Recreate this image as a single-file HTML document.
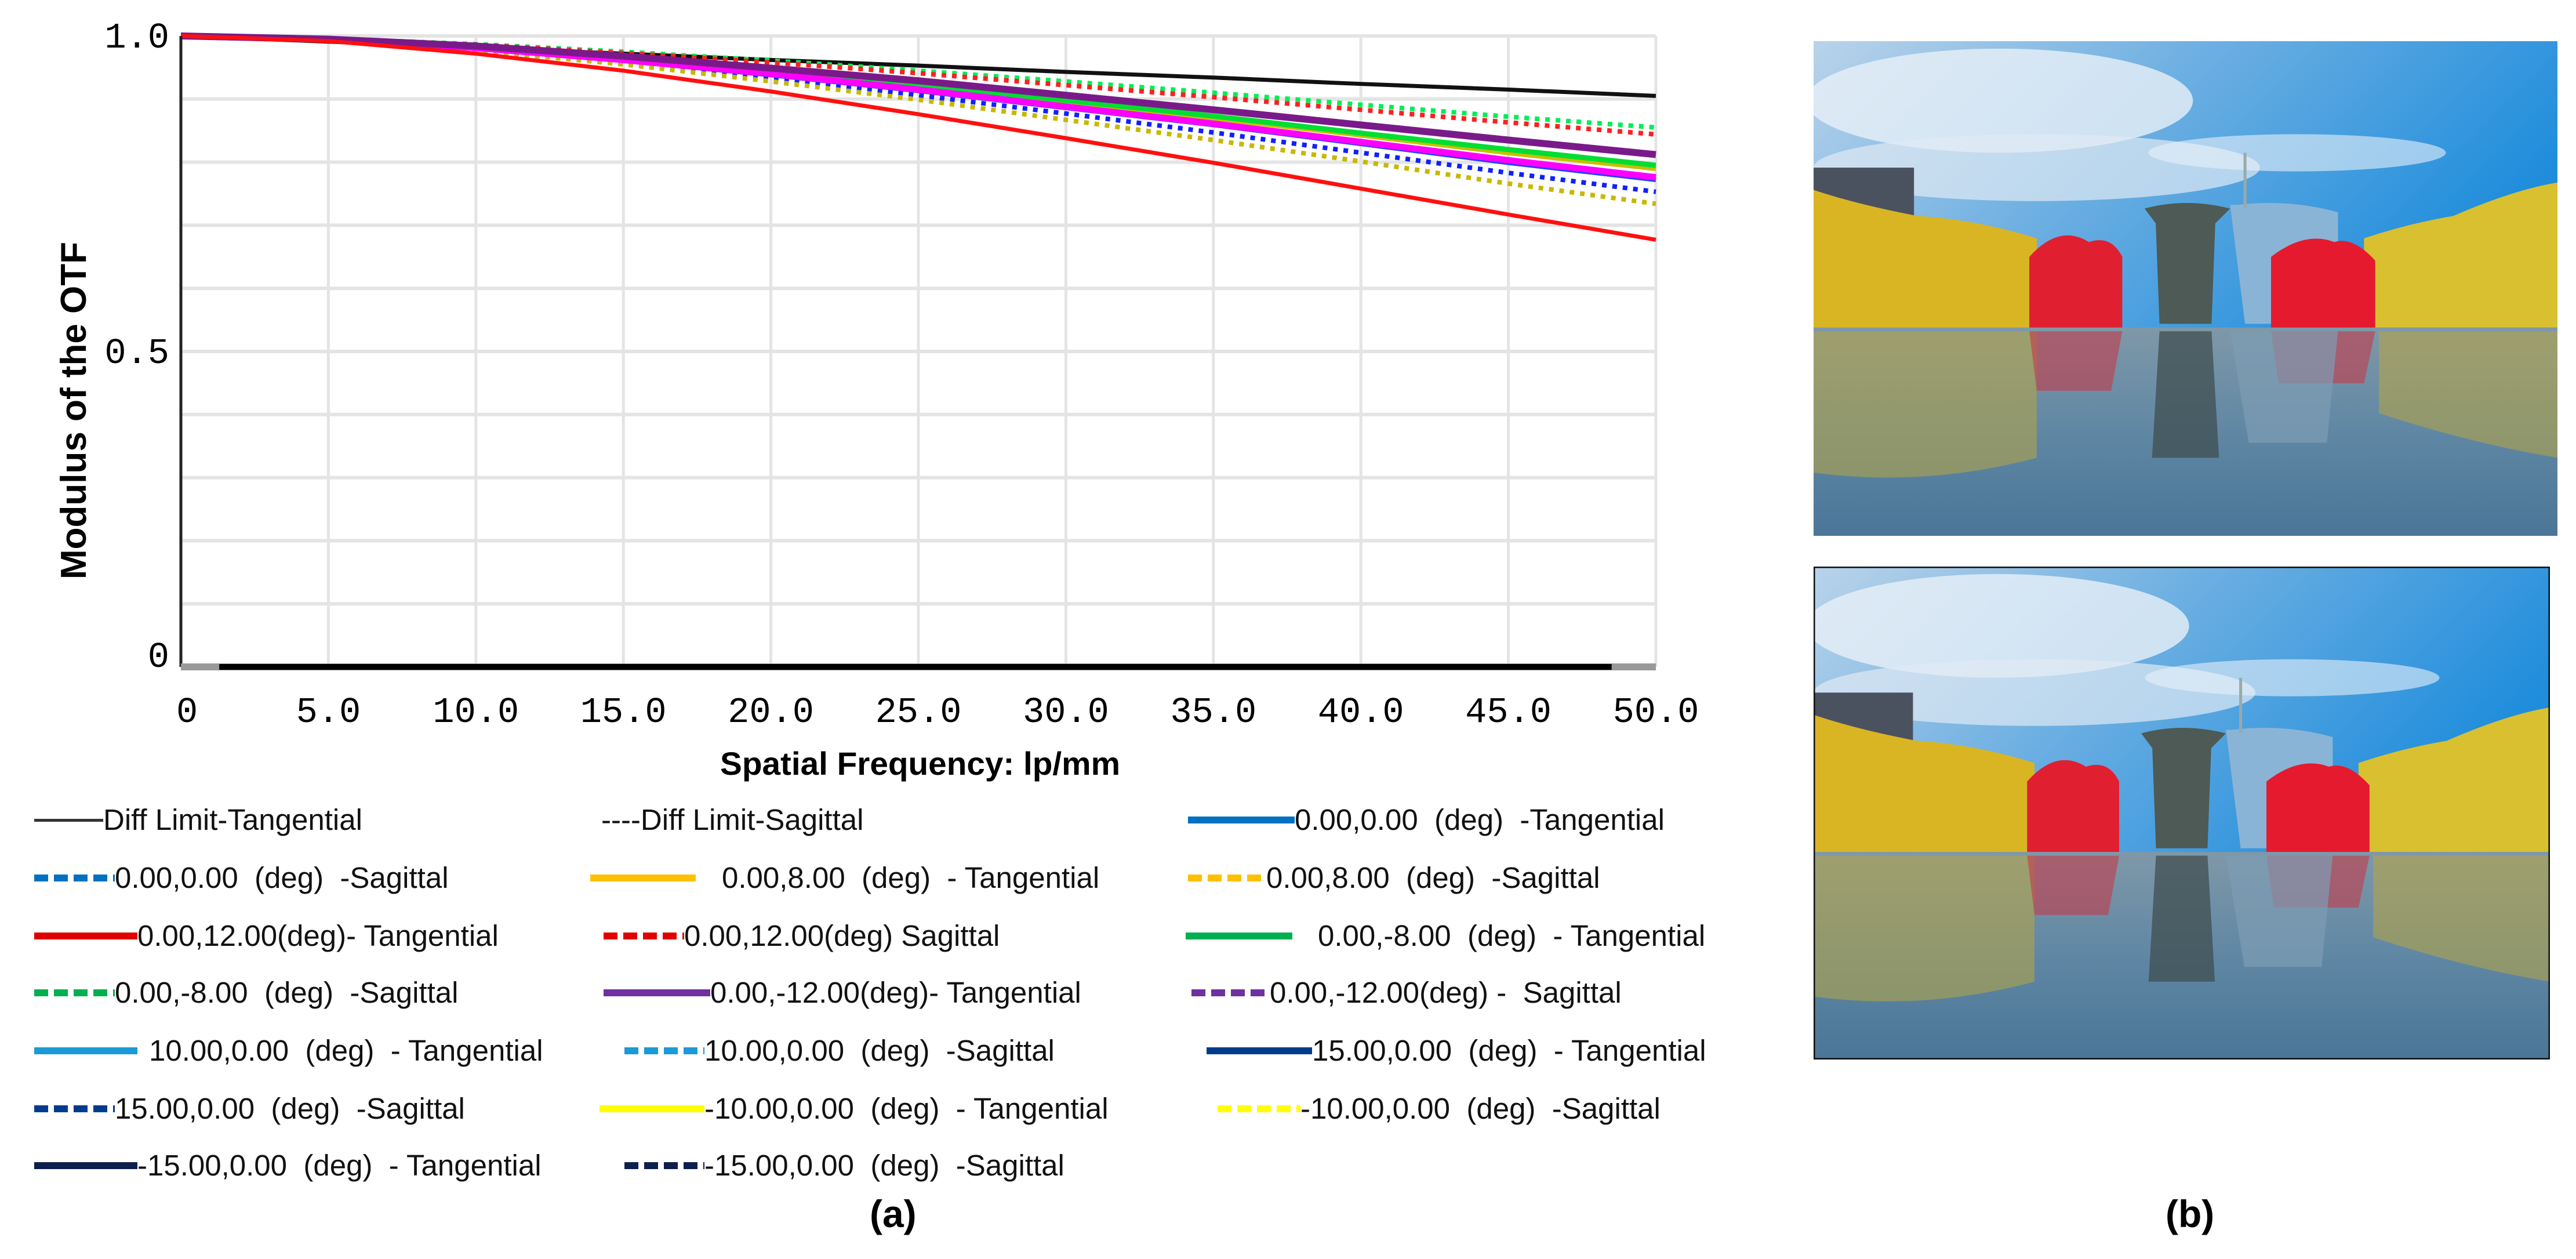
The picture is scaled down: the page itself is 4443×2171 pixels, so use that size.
<!DOCTYPE html>
<html><head><meta charset="utf-8">
<style>
html,body{margin:0;padding:0;background:#fff;}
body{width:4443px;height:2171px;position:relative;overflow:hidden;font-family:"Liberation Sans",sans-serif;}
.lg{position:absolute;height:60px;}
.lg .t{position:absolute;top:0;line-height:60px;font-size:51px;white-space:pre;color:#111;}
.lg .l{position:absolute;top:24px;height:12px;}
.lg .d{position:absolute;top:24px;height:12px;}
</style></head>
<body>
<svg id="chart" width="3100" height="1360" style="position:absolute;left:0;top:0" xmlns="http://www.w3.org/2000/svg">
  <g id="grid"></g>
  <g id="series"></g>
  <g id="axes"></g>
  <text x="0" y="0" transform="translate(148,708) rotate(-90)" text-anchor="middle" font-family="Liberation Sans, sans-serif" font-weight="bold" font-size="62" fill="#000">Modulus of the OTF</text>
  <text x="1587" y="1336" text-anchor="middle" font-family="Liberation Sans, sans-serif" font-weight="bold" font-size="56" fill="#000" textLength="690" lengthAdjust="spacingAndGlyphs">Spatial Frequency: lp/mm</text>
</svg>

<div id="legend"></div>

<div style="position:absolute;left:1500px;top:2055px;font-size:66px;font-weight:bold;">(a)</div>
<div style="position:absolute;left:3735px;top:2055px;font-size:66px;font-weight:bold;">(b)</div>

<svg width="0" height="0" style="position:absolute">
  <defs>
    <linearGradient id="sky" x1="0" y1="0" x2="1" y2="0.4">
      <stop offset="0" stop-color="#b9d3ea"/><stop offset="0.45" stop-color="#6fb0e2"/><stop offset="1" stop-color="#1f8ddc"/>
    </linearGradient>
    <linearGradient id="water" x1="0" y1="0" x2="0" y2="1">
      <stop offset="0" stop-color="#7f98a8"/><stop offset="0.5" stop-color="#5f87a4"/><stop offset="1" stop-color="#4a7596"/>
    </linearGradient>
    <g id="scene2">
      <rect x="0" y="0" width="1000" height="400" fill="url(#sky)"/>
      <ellipse cx="250" cy="80" rx="260" ry="70" fill="#e8f0f8" opacity="0.8"/>
      <ellipse cx="300" cy="170" rx="300" ry="45" fill="#dfe9f3" opacity="0.7"/>
      <ellipse cx="650" cy="150" rx="200" ry="25" fill="#e8f0f8" opacity="0.6"/>
      <rect x="0" y="170" width="135" height="90" fill="#4a5260"/>
      <path d="M560,220 L580,380 L705,380 L705,230 Q640,212 570,220Z" fill="#8ab4d6"/>
      <rect x="578" y="150" width="4" height="75" fill="#9aa"/>
      <path d="M0,200 Q60,220 140,235 Q220,240 300,265 L300,385 L0,385Z" fill="#d9b524"/>
      <path d="M740,265 Q800,245 860,235 Q940,200 1000,190 L1000,385 L740,385Z" fill="#d8c030"/>
      <path d="M290,290 Q330,245 370,270 Q400,260 415,290 L415,385 L290,385Z" fill="#e02030"/>
      <path d="M615,290 Q660,255 700,270 Q725,262 755,295 L755,385 L615,385Z" fill="#e51a2e"/>
      <path d="M445,225 Q500,210 560,225 L540,245 L535,380 L465,380 L460,245Z" fill="#4d5a55"/>
      <rect x="0" y="385" width="1000" height="285" fill="url(#water)"/>
      <path d="M0,390 L300,390 L300,560 Q150,600 0,580Z" fill="#b9a640" opacity="0.55"/>
      <path d="M760,390 L1000,390 L1000,560 Q880,540 760,500Z" fill="#b9a640" opacity="0.55"/>
      <path d="M290,390 L415,390 L400,470 L300,470Z" fill="#c33a4a" opacity="0.6"/>
      <path d="M615,390 L755,390 L740,460 L625,460Z" fill="#c33a4a" opacity="0.6"/>
      <path d="M465,390 L535,390 L545,560 L455,560Z" fill="#3d4a4a" opacity="0.7"/>
      <path d="M560,390 L705,390 L690,540 L585,540Z" fill="#7e9cb4" opacity="0.7"/>
    </g>
  </defs>
</svg>
<svg style="position:absolute;left:3128px;top:71px" width="1283" height="853" viewBox="0 0 1000 665" preserveAspectRatio="none" xmlns="http://www.w3.org/2000/svg">
  <use href="#scene2"/>
</svg>
<svg style="position:absolute;left:3128px;top:977px" width="1270" height="850" viewBox="0 0 1000 665" preserveAspectRatio="none" xmlns="http://www.w3.org/2000/svg">
  <use href="#scene2"/>
  <rect x="0" y="0" width="1000" height="665" fill="none" stroke="#111" stroke-width="4"/>
</svg>

<script>
// ---- chart data ----
const freqs = [0,5,10,15,20,25,30,35,40,45,50];
const xTicks = ["0","5.0","10.0","15.0","20.0","25.0","30.0","35.0","40.0","45.0","50.0"];
const yTickVals = [0,0.5,1.0];
const yTickLabels = ["0","0.5","1.0"];
const diffLimit   = [1,.991,.981,.972,.962,.953,.943,.934,.924,.915,.905];
const s12Sag      = [1,.996,.986,.973,.958,.941,.922,.903,.883,.863,.844];
const sM8Sag      = [1,.996,.987,.975,.961,.945,.928,.910,.891,.872,.855];
const sM12Tan     = [1,.995,.984,.968,.949,.929,.906,.883,.859,.835,.812];
const sM8Tan      = [1,.995,.982,.965,.945,.922,.898,.873,.846,.820,.795];
const s8Tan       = [1,.995,.982,.964,.943,.920,.895,.870,.843,.815,.790];
const sMagenta    = [1,.994,.981,.962,.940,.915,.888,.861,.832,.803,.776];
const s0Tan       = [1,.994,.980,.961,.938,.913,.886,.859,.829,.799,.772];
const s0Sag       = [1,.994,.979,.958,.933,.906,.877,.847,.815,.783,.753];
const s8Sag       = [1,.993,.977,.955,.928,.899,.867,.835,.801,.766,.734];
const s12Tan      = [1,.992,.972,.945,.912,.876,.838,.799,.758,.717,.677];

const X0=312, X1=2856, Y1=62, Y0=1150;
function xs(v){return X0+(v-0)/(50-0)*(X1-X0);}
function ys(v){return Y0-(v-0)/(1-0)*(Y0-Y1);}
const NS="http://www.w3.org/2000/svg";
const grid=document.getElementById('grid'), axes=document.getElementById('axes'), ser=document.getElementById('series');

for(let i=0;i<=10;i++){
  const v=i/10;
  const l=document.createElementNS(NS,'line');
  
  
  l.setAttribute('x1',X0);l.setAttribute('x2',X1);l.setAttribute('y1',ys(v));l.setAttribute('y2',ys(v));
  l.setAttribute('stroke','#e4e4e4');l.setAttribute('stroke-width','6');
  grid.appendChild(l);
}
freqs.forEach(f=>{
  const l=document.createElementNS(NS,'line');
  
  
  l.setAttribute('x1',xs(f));l.setAttribute('x2',xs(f));l.setAttribute('y1',Y1);l.setAttribute('y2',Y0);
  l.setAttribute('stroke','#e4e4e4');l.setAttribute('stroke-width','5');
  grid.appendChild(l);
});
let a=document.createElementNS(NS,'line');


a.setAttribute('x1',X0);a.setAttribute('x2',X0);a.setAttribute('y1',Y1);a.setAttribute('y2',Y0);
a.setAttribute('stroke','#222');a.setAttribute('stroke-width','5');axes.appendChild(a);
let g=document.createElementNS(NS,'line');


g.setAttribute('x1',X0);g.setAttribute('x2',X1);g.setAttribute('y1',Y0);g.setAttribute('y2',Y0);
g.setAttribute('stroke','#999');g.setAttribute('stroke-width','12');axes.appendChild(g);
let b=document.createElementNS(NS,'line');


b.setAttribute('x1',xs(1.3));b.setAttribute('x2',xs(48.5));b.setAttribute('y1',Y0);b.setAttribute('y2',Y0);
b.setAttribute('stroke','#000');b.setAttribute('stroke-width','10');axes.appendChild(b);

xTicks.forEach((t,i)=>{
  const tx=document.createElementNS(NS,'text');
  
  
  tx.setAttribute('x',xs(freqs[i]) + (i===0?-8:0));tx.setAttribute('y',1245);
  tx.setAttribute('text-anchor',i===0?'start':'middle');
  tx.setAttribute('font-family','Liberation Mono, monospace');tx.setAttribute('font-size','62');
  tx.textContent=t;axes.appendChild(tx);
});
yTickVals.forEach((v,i)=>{
  const tx=document.createElementNS(NS,'text');
  
  
  tx.setAttribute('x',292);tx.setAttribute('y',ys(v)+ (v===0?0:20));
  tx.setAttribute('text-anchor','end');
  tx.setAttribute('font-family','Liberation Mono, monospace');tx.setAttribute('font-size','62');
  tx.textContent=yTickLabels[i];axes.appendChild(tx);
});

const seriesList=[
  [diffLimit,'#111',7,null,'diff-limit-line'],
  [sM8Sag,'#00ee55',8,'8 10','sagittal-m8-line'],
  [s12Sag,'#ff2020',8,'8 10','sagittal-12-line'],
  [s0Sag,'#1020ff',8,'8 10','sagittal-0-line'],
  [s8Sag,'#c8b800',8,'8 10','sagittal-8-line'],
  [s8Tan,'#c8c000',9,null,'tangential-8-line'],
  [sM8Tan,'#00dd33',9,null,'tangential-m8-line'],
  [s0Tan,'#2040ff',8,null,'tangential-0-line'],
  [sMagenta,'#ff00ff',11,null,'tangential-10-line'],
  [sM12Tan,'#7a1a8a',12,null,'tangential-m12-line'],
  [s12Tan,'#ff1010',7,null,'tangential-12-line']
];
seriesList.forEach(s=>{
  const p=document.createElementNS(NS,'polyline');
  
  
  p.setAttribute('points',freqs.map((f,i)=>xs(f)+','+ys(s[0][i])).join(' '));
  p.setAttribute('fill','none');p.setAttribute('stroke',s[1]);p.setAttribute('stroke-width',s[2]);
  if(s[3])p.setAttribute('stroke-dasharray',s[3]);
  ser.appendChild(p);
});

// ---- legend ----
const rowsY=[1384,1484,1584,1682,1782,1882,1980];
const legendRows=[
 [0,'solid','#333',59,178,5,178,'Diff Limit-Tangential'],
 [0,'none','#333',1037,1037,0,1037,'----Diff Limit-Sagittal'],
 [0,'solid','#0070c0',2049,2233,12,2233,'0.00,0.00  (deg)  -Tangential'],
 [1,'dot','#0070c0',59,198,12,198,'0.00,0.00  (deg)  -Sagittal'],
 [1,'solid','#ffc000',1018,1200,12,1245,'0.00,8.00  (deg)  - Tangential'],
 [1,'dot','#ffc000',2049,2184,12,2184,'0.00,8.00  (deg)  -Sagittal'],
 [2,'solid','#e00000',59,237,12,237,'0.00,12.00(deg)- Tangential'],
 [2,'dot','#e00000',1041,1180,12,1180,'0.00,12.00(deg) Sagittal'],
 [2,'solid','#00b050',2045,2229,12,2273,'0.00,-8.00  (deg)  - Tangential'],
 [3,'dot','#00b050',59,198,12,198,'0.00,-8.00  (deg)  -Sagittal'],
 [3,'solid','#7030a0',1041,1225,12,1225,'0.00,-12.00(deg)- Tangential'],
 [3,'dot','#7030a0',2055,2190,12,2190,'0.00,-12.00(deg) -  Sagittal'],
 [4,'solid','#1a9ad6',59,237,12,257,'10.00,0.00  (deg)  - Tangential'],
 [4,'dot','#1a9ad6',1077,1215,12,1215,'10.00,0.00  (deg)  -Sagittal'],
 [4,'solid','#003c8c',2081,2263,12,2263,'15.00,0.00  (deg)  - Tangential'],
 [5,'dot','#003c8c',59,198,12,198,'15.00,0.00  (deg)  -Sagittal'],
 [5,'solid','#ffff00',1034,1215,12,1215,'-10.00,0.00  (deg)  - Tangential'],
 [5,'dot','#ffff00',2100,2243,12,2243,'-10.00,0.00  (deg)  -Sagittal'],
 [6,'solid','#0d1f4c',59,237,12,237,'-15.00,0.00  (deg)  - Tangential'],
 [6,'dot','#0d1f4c',1077,1215,12,1215,'-15.00,0.00  (deg)  -Sagittal']
];
const legend=document.getElementById('legend');
legendRows.forEach(r=>{
  const e=document.createElement('div');
  e.className='lg';
  
  
  e.style.top=rowsY[r[0]]+'px';e.style.left='0px';
  if(r[1]!=='none'){
    const l=document.createElement('div');
    
    
    l.style.left=r[3]+'px';l.style.width=(r[4]-r[3])+'px';
    if(r[1]==='solid'){l.style.background=r[2];l.style.height=r[5]+'px';l.style.top=(30-r[5]/2)+'px';l.className='l';}
    else{l.className='d';l.style.background='repeating-linear-gradient(90deg,'+r[2]+' 0 24px,transparent 24px 34px)';}
    e.appendChild(l);
  }
  const t=document.createElement('div');
  t.className='t';
  
  
  t.style.left=r[6]+'px';t.textContent=r[7];
  e.appendChild(t);
  legend.appendChild(e);
});
</script>
</body></html>
